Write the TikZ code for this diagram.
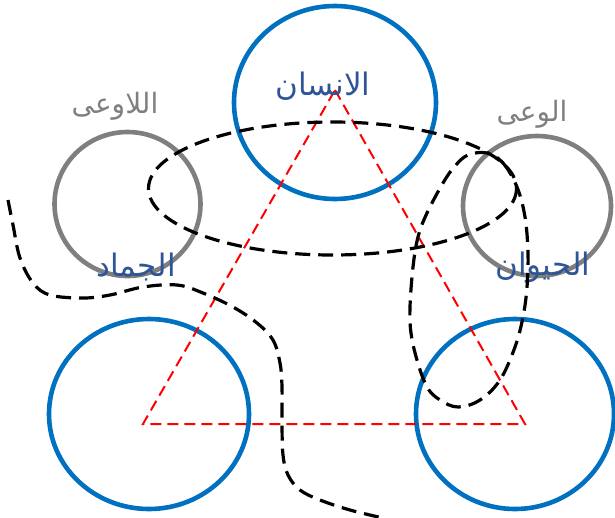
\documentclass[tikz,border=0pt]{standalone}
\usepackage{fontspec}
\newfontfamily\arabicfont[Script=Arabic]{DejaVu Sans}
\TeXXeTstate=1
\definecolor{cblue}{HTML}{0070C0}
\definecolor{tblue}{HTML}{2F5597}
\definecolor{cgray}{HTML}{7F7F7F}
\definecolor{cred}{HTML}{FF0000}
\tikzset{
  bluecirc/.style={draw=cblue, line width=4.6pt},
  graycirc/.style={draw=cgray, line width=4.6pt},
  blackdash/.style={draw=black, line width=3.2pt, dash pattern=on 15pt off 8pt},
  reddash/.style={draw=cred, line width=2pt, dash pattern=on 11pt off 6pt},
  bluetext/.style={text=tblue, inner sep=0pt, font=\arabicfont\fontsize{31}{36}\selectfont},
  graytext/.style={text=cgray, inner sep=0pt, font=\arabicfont\fontsize{28}{33}\selectfont},
}
\begin{document}
\begin{tikzpicture}[x=1pt,y=-1pt]
\useasboundingbox (0,0) rectangle (615,517);
% circles
\draw[bluecirc] (335,102.5) ellipse [x radius=101, y radius=96.5];
\draw[bluecirc] (149,414) ellipse [x radius=100, y radius=95];
\draw[bluecirc] (515,414) ellipse [x radius=99, y radius=95];
\draw[graycirc] (127.5,204) ellipse [x radius=73, y radius=72];
\draw[graycirc] (537,206) ellipse [x radius=74, y radius=70];
% red triangle
\coordinate (apex) at (335,90);
\coordinate (bl) at (143,424);
\coordinate (br) at (525,424);
\draw[reddash] (apex) -- (br) -- (bl) -- cycle;
% labels
\node[bluetext] (insan) at (323,86) {\beginR الانسان\endR};
\node[graytext] (lawai) at (115,106) {\beginR اللاوعى\endR};
\node[graytext] (wai) at (532,114) {\beginR الوعى\endR};
\node[bluetext] (jamad) at (136,267) {\beginR الجماد\endR};
\node[bluetext] (hayawan) at (543,268) {\beginR الحيوان\endR};
% black dashed shapes
\draw[blackdash] (332.5,188.5) ellipse [x radius=184, y radius=66.5];
\draw[blackdash] plot[smooth cycle, tension=0.6] coordinates {
 (487,153) (503,163) (517,187) (525,217) (528,253) (527,287) (523,317)
 (515,347) (500,380) (480,400) (458,407) (440,400) (427,387) (417,360)
 (411,333) (410,307) (413,267) (418,237) (427,213) (443,183) (455,166) (468,155)};
\draw[blackdash] plot[smooth, tension=0.6] coordinates {
 (8,200) (13,225) (20,258) (33,283) (50,295) (83,298) (110,295) (143,287)
 (177,285) (203,293) (233,307) (257,323) (273,340) (280,363) (282,387)
 (282,423) (283,455) (288,475) (300,490) (320,500) (350,510) (383,518)};
\end{tikzpicture}
\end{document}
